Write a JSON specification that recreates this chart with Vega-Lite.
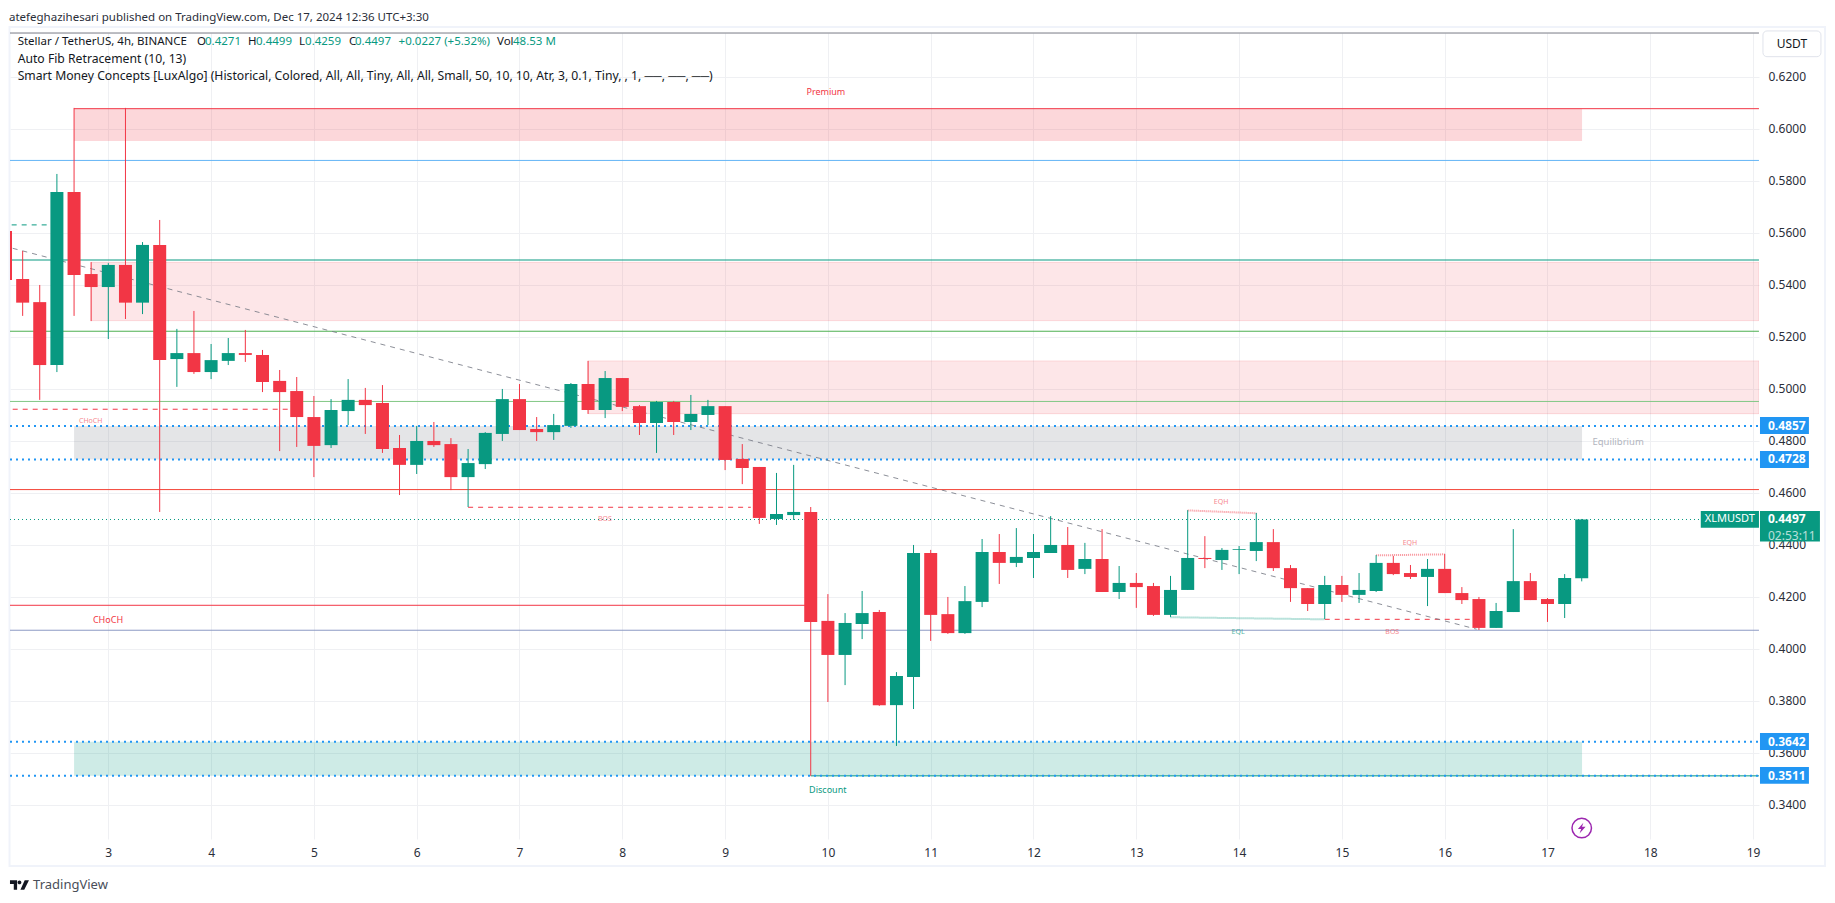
{"$schema":"https://vega.github.io/schema/vega-lite/v6.json","width":1749,"height":806,"autosize":{"type":"none"},"padding":{"left":10,"top":33,"right":76,"bottom":64},"background":"#ffffff",
"title":{"text":"atefeghazihesari published on TradingView.com, Dec 17, 2024 12:36 UTC+3:30","anchor":"start","frame":"group","font":"Noto Sans","fontSize":11.5,"fontWeight":"normal","color":"#2a2e39","offset":3,"dx":-1},
"config":{"view":{"stroke":null},"text":{"font":"Noto Sans"},"axis":{"labelFont":"Noto Sans"}},
"resolve":{"scale":{"color":"independent"}},
"datasets":{
"candles":[
{"t":2,"open":0.5607,"high":0.5607,"low":0.5418,"close":0.5418},
{"t":2.167,"open":0.5422,"high":0.553,"low":0.528,"close":0.5331},
{"t":2.333,"open":0.5333,"high":0.5399,"low":0.4957,"close":0.5091},
{"t":2.5,"open":0.5091,"high":0.5826,"low":0.5064,"close":0.5757},
{"t":2.667,"open":0.5757,"high":0.608,"low":0.528,"close":0.5437},
{"t":2.833,"open":0.5441,"high":0.5487,"low":0.526,"close":0.5391},
{"t":3,"open":0.5391,"high":0.5483,"low":0.5191,"close":0.5476},
{"t":3.167,"open":0.5476,"high":0.608,"low":0.5268,"close":0.5331},
{"t":3.333,"open":0.5331,"high":0.5564,"low":0.5287,"close":0.5553},
{"t":3.5,"open":0.5553,"high":0.5649,"low":0.4526,"close":0.511},
{"t":3.667,"open":0.5114,"high":0.523,"low":0.5007,"close":0.5137},
{"t":3.833,"open":0.5137,"high":0.5299,"low":0.5057,"close":0.5064},
{"t":4,"open":0.5064,"high":0.5172,"low":0.5037,"close":0.511},
{"t":4.167,"open":0.5107,"high":0.5195,"low":0.5091,"close":0.5137},
{"t":4.333,"open":0.5137,"high":0.5226,"low":0.5103,"close":0.513},
{"t":4.5,"open":0.513,"high":0.5149,"low":0.4987,"close":0.5026},
{"t":4.667,"open":0.503,"high":0.5072,"low":0.476,"close":0.4987},
{"t":4.833,"open":0.4991,"high":0.5045,"low":0.4776,"close":0.4891},
{"t":5,"open":0.4891,"high":0.4972,"low":0.466,"close":0.478},
{"t":5.167,"open":0.4783,"high":0.496,"low":0.4772,"close":0.4918},
{"t":5.333,"open":0.4914,"high":0.5037,"low":0.486,"close":0.4957},
{"t":5.5,"open":0.4957,"high":0.5003,"low":0.4826,"close":0.4937},
{"t":5.667,"open":0.4945,"high":0.5014,"low":0.4753,"close":0.4768},
{"t":5.833,"open":0.4772,"high":0.4822,"low":0.4591,"close":0.4707},
{"t":6,"open":0.4707,"high":0.4857,"low":0.4672,"close":0.4799},
{"t":6.167,"open":0.4799,"high":0.4872,"low":0.4776,"close":0.4783},
{"t":6.333,"open":0.4787,"high":0.481,"low":0.461,"close":0.466},
{"t":6.5,"open":0.466,"high":0.4768,"low":0.4545,"close":0.4714},
{"t":6.667,"open":0.471,"high":0.4833,"low":0.4691,"close":0.483},
{"t":6.833,"open":0.4826,"high":0.4999,"low":0.4799,"close":0.496},
{"t":7,"open":0.496,"high":0.5018,"low":0.4841,"close":0.4841},
{"t":7.167,"open":0.4845,"high":0.4891,"low":0.4799,"close":0.4833},
{"t":7.333,"open":0.4833,"high":0.4903,"low":0.4803,"close":0.486},
{"t":7.5,"open":0.4857,"high":0.5022,"low":0.4849,"close":0.5018},
{"t":7.667,"open":0.5018,"high":0.5107,"low":0.4903,"close":0.4918},
{"t":7.833,"open":0.4918,"high":0.5068,"low":0.4887,"close":0.5041},
{"t":8,"open":0.5041,"high":0.5041,"low":0.4914,"close":0.493},
{"t":8.167,"open":0.4933,"high":0.4937,"low":0.4822,"close":0.4868},
{"t":8.333,"open":0.4868,"high":0.4953,"low":0.4753,"close":0.4949},
{"t":8.5,"open":0.4949,"high":0.4953,"low":0.4822,"close":0.4872},
{"t":8.667,"open":0.4872,"high":0.4976,"low":0.4841,"close":0.4903},
{"t":8.833,"open":0.4899,"high":0.4957,"low":0.486,"close":0.4933},
{"t":9,"open":0.4933,"high":0.4933,"low":0.4687,"close":0.4726},
{"t":9.167,"open":0.473,"high":0.4787,"low":0.4633,"close":0.4695},
{"t":9.333,"open":0.4699,"high":0.4699,"low":0.448,"close":0.4503},
{"t":9.5,"open":0.4499,"high":0.4676,"low":0.4476,"close":0.4518},
{"t":9.667,"open":0.4514,"high":0.4707,"low":0.4495,"close":0.4526},
{"t":9.833,"open":0.4526,"high":0.4545,"low":0.3511,"close":0.4103},
{"t":10,"open":0.4107,"high":0.421,"low":0.3795,"close":0.3976},
{"t":10.167,"open":0.3976,"high":0.4137,"low":0.386,"close":0.4099},
{"t":10.333,"open":0.4095,"high":0.4222,"low":0.4037,"close":0.4137},
{"t":10.5,"open":0.4141,"high":0.4149,"low":0.378,"close":0.3783},
{"t":10.667,"open":0.3783,"high":0.391,"low":0.3626,"close":0.3895},
{"t":10.833,"open":0.3891,"high":0.4399,"low":0.3768,"close":0.4368},
{"t":11,"open":0.4368,"high":0.438,"low":0.403,"close":0.413},
{"t":11.167,"open":0.4133,"high":0.4199,"low":0.4057,"close":0.406},
{"t":11.333,"open":0.406,"high":0.4241,"low":0.4057,"close":0.4183},
{"t":11.5,"open":0.418,"high":0.4422,"low":0.416,"close":0.4372},
{"t":11.667,"open":0.4372,"high":0.4441,"low":0.4249,"close":0.433},
{"t":11.833,"open":0.433,"high":0.4464,"low":0.4314,"close":0.4353},
{"t":12,"open":0.4349,"high":0.4441,"low":0.4272,"close":0.4372},
{"t":12.167,"open":0.4368,"high":0.451,"low":0.4368,"close":0.4399},
{"t":12.333,"open":0.4399,"high":0.4468,"low":0.4272,"close":0.4303},
{"t":12.5,"open":0.4307,"high":0.4407,"low":0.4287,"close":0.4345},
{"t":12.667,"open":0.4345,"high":0.446,"low":0.4218,"close":0.4218},
{"t":12.833,"open":0.4218,"high":0.4318,"low":0.4191,"close":0.4253},
{"t":13,"open":0.4253,"high":0.4291,"low":0.4157,"close":0.4237},
{"t":13.167,"open":0.4241,"high":0.4253,"low":0.4126,"close":0.413},
{"t":13.333,"open":0.413,"high":0.428,"low":0.4122,"close":0.4226},
{"t":13.5,"open":0.4226,"high":0.4533,"low":0.4226,"close":0.4349},
{"t":13.667,"open":0.4349,"high":0.4433,"low":0.431,"close":0.4345},
{"t":13.833,"open":0.4341,"high":0.4387,"low":0.4303,"close":0.438},
{"t":14,"open":0.438,"high":0.4395,"low":0.4287,"close":0.4383},
{"t":14.167,"open":0.4376,"high":0.4522,"low":0.4337,"close":0.441},
{"t":14.333,"open":0.441,"high":0.446,"low":0.4299,"close":0.431},
{"t":14.5,"open":0.431,"high":0.4322,"low":0.418,"close":0.4233},
{"t":14.667,"open":0.4233,"high":0.4233,"low":0.4145,"close":0.4172},
{"t":14.833,"open":0.4172,"high":0.428,"low":0.4114,"close":0.4245},
{"t":15,"open":0.4245,"high":0.428,"low":0.418,"close":0.4207},
{"t":15.167,"open":0.4207,"high":0.4291,"low":0.4176,"close":0.4226},
{"t":15.333,"open":0.4222,"high":0.436,"low":0.4218,"close":0.433},
{"t":15.5,"open":0.433,"high":0.4357,"low":0.4283,"close":0.4287},
{"t":15.667,"open":0.4291,"high":0.4322,"low":0.4268,"close":0.4276},
{"t":15.833,"open":0.4276,"high":0.4345,"low":0.4164,"close":0.4307},
{"t":16,"open":0.4307,"high":0.4364,"low":0.4214,"close":0.4214},
{"t":16.167,"open":0.4214,"high":0.4237,"low":0.4172,"close":0.4187},
{"t":16.333,"open":0.4191,"high":0.4199,"low":0.4072,"close":0.408},
{"t":16.5,"open":0.408,"high":0.4176,"low":0.408,"close":0.4145},
{"t":16.667,"open":0.4141,"high":0.446,"low":0.4141,"close":0.426},
{"t":16.833,"open":0.426,"high":0.4291,"low":0.4187,"close":0.4187},
{"t":17,"open":0.4191,"high":0.4195,"low":0.4103,"close":0.4172},
{"t":17.167,"open":0.4172,"high":0.4287,"low":0.4118,"close":0.4272},
{"t":17.333,"open":0.4271,"high":0.4499,"low":0.4259,"close":0.4497}
],
"zonesStrong":[
{"zone":"Premium","t":2.667,"t2":17.336,"p":0.6077,"p2":0.5953},
{"zone":"Equilibrium","t":2.667,"t2":17.336,"p":0.4857,"p2":0.4728},
{"zone":"Discount","t":2.667,"t2":17.336,"p":0.3642,"p2":0.3511}
],
"blocks":[
{"t":2.833,"t2":19.057,"p":0.5486,"p2":0.5262},
{"t":7.667,"t2":19.057,"p":0.5107,"p2":0.4904}
],
"levels":[
{"level":"swing high","t":2.667,"t2":19.057,"p":0.6077},
{"level":"fib top","t":2.0438,"t2":19.057,"p":0.5878},
{"level":"fib 0.618","t":2.0438,"t2":19.057,"p":0.5495},
{"level":"fib 0.5","t":2.0438,"t2":19.057,"p":0.5221},
{"level":"fib 0.382","t":2.0438,"t2":19.057,"p":0.4951},
{"level":"fib 0.236","t":2.0438,"t2":19.057,"p":0.4612},
{"level":"CHoCH","t":2.0438,"t2":9.8,"p":0.4167},
{"level":"fib 0","t":2.0438,"t2":19.057,"p":0.4071},
{"level":"swing low","t":9.833,"t2":19.057,"p":0.3511}
],
"dashedRed":[
{"t":2.07,"t2":4.85,"p":0.4921},
{"t":6.5,"t2":9.25,"p":0.4544},
{"t":14.833,"t2":16.27,"p":0.4113}
],
"dashedGreen":[{"t":2.06,"t2":2.42,"p":0.563}],
"trend":[{"t":2.07,"t2":16.31,"p":0.554,"p2":0.4075}],
"equalHighs":[
{"t":13.5,"t2":14.167,"p":0.4532,"p2":0.4521},
{"t":15.333,"t2":16,"p":0.4359,"p2":0.4363}
],
"equalLows":[{"t":13.333,"t2":14.833,"p":0.4121,"p2":0.4113}],
"lastPrice":[{"t":2.0438,"t2":18.49,"p":0.4497}],
"blueLines":[
{"t":2.0438,"t2":19.057,"p":0.4857},
{"t":2.0438,"t2":19.057,"p":0.4728},
{"t":2.0438,"t2":19.057,"p":0.3642},
{"t":2.0438,"t2":19.057,"p":0.3511}
],
"frame":[{"t":2.039,"t2":19.699,"p":0.6391,"p2":0.3164}],
"paneTop":[{"t":2.0438,"t2":19.057,"p":0.6368}],
"currency":[{"t":19.096,"t2":19.66,"p":0.6376,"p2":0.6277}],
"blueBadges":[
{"t":19.067,"t2":19.543,"p":0.4891,"p2":0.4826},
{"t":19.067,"t2":19.543,"p":0.476,"p2":0.4695},
{"t":19.067,"t2":19.543,"p":0.3676,"p2":0.361},
{"t":19.067,"t2":19.543,"p":0.3545,"p2":0.3481}
],
"greenBadges":[
{"t":18.491,"t2":19.057,"p":0.453,"p2":0.4465},
{"t":19.067,"t2":19.65,"p":0.453,"p2":0.4412}
],
"badgeText":[
{"t":19.145,"p":0.4857,"label":"0.4857"},
{"t":19.145,"p":0.4728,"label":"0.4728"},
{"t":19.145,"p":0.3642,"label":"0.3642"},
{"t":19.145,"p":0.3511,"label":"0.3511"},
{"t":19.145,"p":0.4497,"label":"0.4497"}
],
"symbolTag":[{"t":18.53,"p":0.4497,"label":"XLMUSDT"}],
"countdown":[{"t":19.145,"p":0.4435,"label":"02:53:11"}],
"currencyText":[{"t":19.378,"p":0.6326,"label":"USDT"}],
"legendLine1":[
{"t":2.118,"p":0.6335,"label":"Stellar / TetherUS, 4h, BINANCE"},
{"t":3.863,"p":0.6335,"label":"O"},
{"t":4.359,"p":0.6335,"label":"H"},
{"t":4.855,"p":0.6335,"label":"L"},
{"t":5.341,"p":0.6335,"label":"C"},
{"t":6.781,"p":0.6335,"label":"Vol"}
],
"legendDark":[
{"t":2.118,"p":0.6268,"label":"Auto Fib Retracement (10, 13)"},
{"t":2.118,"p":0.6203,"label":"Smart Money Concepts [LuxAlgo] (Historical, Colored, All, All, Tiny, All, All, Small, 50, 10, 10, Atr, 3, 0.1, Tiny, , 1, ──, ──, ──)"}
],
"legendTeal":[
{"t":3.941,"p":0.6335,"label":"0.4271"},
{"t":4.437,"p":0.6335,"label":"0.4499"},
{"t":4.914,"p":0.6335,"label":"0.4259"},
{"t":5.4,"p":0.6335,"label":"0.4497"},
{"t":5.824,"p":0.6335,"label":"+0.0227 (+5.32%)"},
{"t":6.937,"p":0.6335,"label":"48.53 M"}
],
"redText":[
{"t":9.98,"p":0.6141,"label":"Premium"},
{"t":2.997,"p":0.4111,"label":"CHoCH"}
],
"pinkText":[
{"t":2.829,"p":0.4877,"label":"CHoCH"},
{"t":7.83,"p":0.4500,"label":"BOS"},
{"t":15.49,"p":0.4065,"label":"BOS"},
{"t":13.825,"p":0.4565,"label":"EQH"},
{"t":15.662,"p":0.4408,"label":"EQH"}
],
"tealSmall":[{"t":13.99,"p":0.4065,"label":"EQL"}],
"discountText":[{"t":9.999,"p":0.3457,"label":"Discount"}],
"equilibriumText":[{"t":17.687,"p":0.4796,"label":"Equilibrium"}],
"alert":[{"t":17.333,"p":0.331}],
"brandMark":[{"t":2.136,"p":0.3091}],
"brandText":[{"t":2.268,"p":0.3091,"label":"TradingView"}]
},
"encoding":{
"x":{"field":"t","type":"quantitative","title":null,"scale":{"domain":[2.0438,19.0574],"nice":false,"zero":false,"padding":0},"axis":{"values":[3,4,5,6,7,8,9,10,11,12,13,14,15,16,17,18,19],"format":"d","orient":"bottom","grid":true,"domain":false,"ticks":false,"labelPadding":8,"labelFontSize":12,"labelColor":"#2a2e39","gridColor":"#eff0f3","gridWidth":1,"labelOverlap":false,"labelFlush":false,"labelBound":false}},
"y":{"field":"p","type":"quantitative","title":null,"scale":{"domain":[0.32681,0.63681],"nice":false,"zero":false},"axis":{"values":[0.34,0.36,0.38,0.4,0.42,0.44,0.46,0.48,0.5,0.52,0.54,0.56,0.58,0.6,0.62],"format":".4f","orient":"right","grid":true,"domain":false,"ticks":false,"labelPadding":9,"labelFontSize":12,"labelColor":"#2a2e39","gridColor":"#eff0f3","gridWidth":1,"labelOverlap":false,"labelFlush":false,"labelBound":false}}
},
"layer":[
{"data":{"name":"frame"},"mark":{"type":"rect","fillOpacity":0,"stroke":"#f0f3fa","strokeWidth":2},"encoding":{"x2":{"field":"t2"},"y2":{"field":"p2"}}},
{"data":{"name":"zonesStrong"},"mark":{"type":"rect","opacity":0.2},"encoding":{"x2":{"field":"t2"},"y2":{"field":"p2"},"color":{"field":"zone","type":"nominal","legend":null,"scale":{"domain":["Premium","Equilibrium","Discount"],"range":["#f23645","#787b86","#089981"]}}}},
{"data":{"name":"blocks"},"mark":{"type":"rect","fill":"#f23645","fillOpacity":0.125,"stroke":"#f23645","strokeOpacity":0.15,"strokeWidth":1,"clip":true},"encoding":{"x2":{"field":"t2"},"y2":{"field":"p2"}}},
{"data":{"name":"paneTop"},"mark":{"type":"rule","color":"#787b86","strokeWidth":1},"encoding":{"x2":{"field":"t2"}}},
{"data":{"name":"levels"},"mark":{"type":"rule","strokeWidth":1},"encoding":{"x2":{"field":"t2"},"color":{"field":"level","type":"nominal","legend":null,"scale":{"domain":["swing high","fib top","fib 0.618","fib 0.5","fib 0.382","fib 0.236","CHoCH","fib 0","swing low"],"range":["#f23645","#64b5f6","#089981","#4caf50","#81c784","#f44336","#f23645","#8c9ac4","#089981"]}}}},
{"data":{"name":"blueLines"},"mark":{"type":"rule","color":"#2196f3","strokeWidth":2,"strokeDash":[2,4]},"encoding":{"x2":{"field":"t2"}}},
{"data":{"name":"lastPrice"},"mark":{"type":"rule","color":"#089981","strokeWidth":1,"strokeDash":[1,3]},"encoding":{"x2":{"field":"t2"}}},
{"data":{"name":"dashedRed"},"mark":{"type":"rule","color":"#f23645","strokeWidth":1,"strokeDash":[5,5]},"encoding":{"x2":{"field":"t2"}}},
{"data":{"name":"dashedGreen"},"mark":{"type":"rule","color":"#089981","strokeWidth":1,"strokeDash":[5,5]},"encoding":{"x2":{"field":"t2"}}},
{"data":{"name":"trend"},"mark":{"type":"rule","color":"#787b86","opacity":0.85,"strokeWidth":1,"strokeDash":[5,5]},"encoding":{"x2":{"field":"t2"},"y2":{"field":"p2"}}},
{"data":{"name":"equalHighs"},"mark":{"type":"rule","color":"#f23645","opacity":0.55,"strokeWidth":2,"strokeDash":[1,1]},"encoding":{"x2":{"field":"t2"},"y2":{"field":"p2"}}},
{"data":{"name":"equalLows"},"mark":{"type":"rule","color":"#089981","opacity":0.55,"strokeWidth":2,"strokeDash":[1,1]},"encoding":{"x2":{"field":"t2"},"y2":{"field":"p2"}}},
{"data":{"name":"candles"},"mark":{"type":"rule","strokeWidth":1,"clip":true},"encoding":{"y":{"field":"low","type":"quantitative","title":null,"scale":{"domain":[0.32681,0.63681],"nice":false,"zero":false},"axis":{"values":[0.34,0.36,0.38,0.4,0.42,0.44,0.46,0.48,0.5,0.52,0.54,0.56,0.58,0.6,0.62],"format":".4f","orient":"right","grid":true,"domain":false,"ticks":false,"labelPadding":9,"labelFontSize":12,"labelColor":"#2a2e39","gridColor":"#eff0f3","gridWidth":1,"labelOverlap":false,"labelFlush":false,"labelBound":false}},"y2":{"field":"high"},"color":{"condition":{"test":"datum.close>=datum.open","value":"#089981"},"value":"#f23645"}}},
{"data":{"name":"candles"},"mark":{"type":"bar","size":13,"orient":"vertical","clip":true},"encoding":{"y":{"field":"open","type":"quantitative","title":null,"scale":{"domain":[0.32681,0.63681],"nice":false,"zero":false},"axis":{"values":[0.34,0.36,0.38,0.4,0.42,0.44,0.46,0.48,0.5,0.52,0.54,0.56,0.58,0.6,0.62],"format":".4f","orient":"right","grid":true,"domain":false,"ticks":false,"labelPadding":9,"labelFontSize":12,"labelColor":"#2a2e39","gridColor":"#eff0f3","gridWidth":1,"labelOverlap":false,"labelFlush":false,"labelBound":false}},"y2":{"field":"close"},"color":{"condition":{"test":"datum.close>=datum.open","value":"#089981"},"value":"#f23645"}}},
{"data":{"name":"currency"},"mark":{"type":"rect","fill":"#ffffff","stroke":"#e0e3eb","strokeWidth":1,"cornerRadius":4},"encoding":{"x2":{"field":"t2"},"y2":{"field":"p2"}}},
{"data":{"name":"currencyText"},"mark":{"type":"text","align":"center","baseline":"middle","fontSize":12,"color":"#131722"},"encoding":{"text":{"field":"label"}}},
{"data":{"name":"blueBadges"},"mark":{"type":"rect","fill":"#2196f3"},"encoding":{"x2":{"field":"t2"},"y2":{"field":"p2"}}},
{"data":{"name":"greenBadges"},"mark":{"type":"rect","fill":"#089981"},"encoding":{"x2":{"field":"t2"},"y2":{"field":"p2"}}},
{"data":{"name":"badgeText"},"mark":{"type":"text","align":"left","baseline":"middle","fontSize":12,"fontWeight":"bold","color":"#ffffff"},"encoding":{"text":{"field":"label"}}},
{"data":{"name":"symbolTag"},"mark":{"type":"text","align":"left","baseline":"middle","fontSize":11,"color":"#ffffff"},"encoding":{"text":{"field":"label"}}},
{"data":{"name":"countdown"},"mark":{"type":"text","align":"left","baseline":"middle","fontSize":12,"color":"#ffffff","opacity":0.7},"encoding":{"text":{"field":"label"}}},
{"data":{"name":"legendLine1"},"mark":{"type":"text","align":"left","baseline":"middle","fontSize":11.5,"color":"#131722"},"encoding":{"text":{"field":"label"}}},
{"data":{"name":"legendDark"},"mark":{"type":"text","align":"left","baseline":"middle","fontSize":12.2,"color":"#131722"},"encoding":{"text":{"field":"label"}}},
{"data":{"name":"legendTeal"},"mark":{"type":"text","align":"left","baseline":"middle","fontSize":11.5,"color":"#089981"},"encoding":{"text":{"field":"label"}}},
{"data":{"name":"redText"},"mark":{"type":"text","align":"center","baseline":"middle","fontSize":9,"color":"#f23645"},"encoding":{"text":{"field":"label"}}},
{"data":{"name":"pinkText"},"mark":{"type":"text","align":"center","baseline":"middle","fontSize":7,"color":"#f23645","opacity":0.6},"encoding":{"text":{"field":"label"}}},
{"data":{"name":"tealSmall"},"mark":{"type":"text","align":"center","baseline":"middle","fontSize":7,"color":"#089981","opacity":0.7},"encoding":{"text":{"field":"label"}}},
{"data":{"name":"discountText"},"mark":{"type":"text","align":"center","baseline":"middle","fontSize":9,"color":"#089981"},"encoding":{"text":{"field":"label"}}},
{"data":{"name":"equilibriumText"},"mark":{"type":"text","align":"center","baseline":"middle","fontSize":9.5,"color":"#b2b5be"},"encoding":{"text":{"field":"label"}}},
{"data":{"name":"alert"},"mark":{"type":"point","filled":false,"shape":"circle","size":380,"color":"#9c27b0","strokeWidth":1.5,"opacity":1},"encoding":{}},
{"data":{"name":"alert"},"mark":{"type":"point","filled":true,"shape":"M0.3 -1 L-0.7 0.15 H-0.1 L-0.4 1 L0.7 -0.25 H0.05 Z","size":120,"color":"#9c27b0","opacity":1},"encoding":{}},
{"data":{"name":"brandMark"},"mark":{"type":"point","filled":true,"shape":"M-1 -0.5 H-0.25 V0.5 H-0.6 V-0.1 H-1 Z M0.55 -0.5 H1 L0.5 0.5 H0.1 Z M0.2 -0.28 A0.2 0.2 0 1 1 -0.2 -0.28 A0.2 0.2 0 1 1 0.2 -0.28 Z","size":361,"color":"#131722","opacity":1},"encoding":{}},
{"data":{"name":"brandText"},"mark":{"type":"text","align":"left","baseline":"middle","fontSize":13,"color":"#4a4e59"},"encoding":{"text":{"field":"label"}}}
]}
